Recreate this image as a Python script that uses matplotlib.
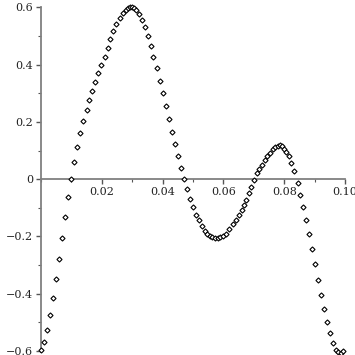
import matplotlib
matplotlib.use("Agg")
import matplotlib.pyplot as plt
from matplotlib.ticker import MultipleLocator

x_vals = [
    0.0000, 0.0011, 0.0020, 0.0029, 0.0040, 0.0050, 0.0060, 0.0070, 0.0080, 0.0090,
    0.0100, 0.0110, 0.0120, 0.0129, 0.0139, 0.0150, 0.0159, 0.0169, 0.0179, 0.0189,
    0.0199, 0.0209, 0.0219, 0.0228, 0.0238, 0.0248, 0.0261, 0.0270, 0.0279, 0.0286,
    0.0292, 0.0299, 0.0305, 0.0312, 0.0321, 0.0331, 0.0341, 0.0351, 0.0361, 0.0370,
    0.0380, 0.0390, 0.0400, 0.0410, 0.0420, 0.0430, 0.0440, 0.0450, 0.0459, 0.0469,
    0.0481, 0.0490, 0.0499, 0.0510, 0.0520, 0.0529, 0.0538, 0.0547, 0.0555, 0.0564,
    0.0573, 0.0582, 0.0590, 0.0599, 0.0608, 0.0618, 0.0630, 0.0640, 0.0650, 0.0660,
    0.0668, 0.0675, 0.0684, 0.0692, 0.0700, 0.0709, 0.0718, 0.0728, 0.0736, 0.0745,
    0.0753, 0.0762, 0.0770, 0.0778, 0.0785, 0.0792, 0.0799, 0.0807, 0.0816, 0.0824,
    0.0832, 0.0844, 0.0852, 0.0862, 0.0872, 0.0882, 0.0892, 0.0901, 0.0911, 0.0921,
    0.0930, 0.0940, 0.0950, 0.0960, 0.0970, 0.0978, 0.0986, 0.0995,
]
y_vals = [
    -0.595, -0.569, -0.527, -0.474, -0.415, -0.349, -0.279, -0.205, -0.133, -0.063,
    0.000, 0.059, 0.112, 0.160, 0.203, 0.242, 0.277, 0.308, 0.338, 0.370,
    0.398, 0.428, 0.459, 0.488, 0.516, 0.541, 0.562, 0.579, 0.590, 0.599,
    0.602, 0.600, 0.596, 0.590, 0.575, 0.555, 0.530, 0.500, 0.465, 0.425,
    0.387, 0.343, 0.300, 0.256, 0.210, 0.166, 0.122, 0.081, 0.040, 0.000,
    -0.035, -0.070, -0.098, -0.125, -0.144, -0.165, -0.180, -0.191, -0.198, -0.202,
    -0.205, -0.205, -0.202, -0.198, -0.191, -0.175, -0.157, -0.142, -0.125, -0.107,
    -0.091, -0.072, -0.049, -0.026, -0.002, 0.021, 0.035, 0.050, 0.067, 0.081,
    0.093, 0.105, 0.112, 0.116, 0.119, 0.114, 0.105, 0.095, 0.081, 0.056,
    0.027, -0.012, -0.055, -0.096, -0.142, -0.192, -0.243, -0.296, -0.351, -0.404,
    -0.453, -0.498, -0.537, -0.572, -0.595, -0.605, -0.607, -0.599,
]

x_ticks = [0.02, 0.04, 0.06, 0.08, 0.10]
x_ticklabels = ["0.02", "0.04", "0.06", "0.08", "0.10"]
y_ticks = [-0.6, -0.4, -0.2, 0.0, 0.2, 0.4, 0.6]
y_ticklabels = ["\u22120.6", "\u22120.4", "\u22120.2", "0", "0.2", "0.4", "0.6"]

plt.rcParams['font.family'] = ['DejaVu Serif']

fig = plt.figure(figsize=(3.55, 3.55), dpi=100)
ax = fig.add_axes([41/355, (355-352)/355, (345-41)/355, (352-7.3)/355])

ax.plot(x_vals, y_vals, linestyle='none', marker='D', markersize=2.6,
        markerfacecolor='white', markeredgecolor='black', markeredgewidth=0.8,
        clip_on=False, zorder=3)

ax.set_xlim(0, 0.1)
ax.set_ylim(-0.6035, 0.6)

axis_col = '#808080'
for s in ['top', 'right']:
    ax.spines[s].set_visible(False)
ax.spines['left'].set_position(('data', 0))
ax.spines['bottom'].set_position(('data', 0))
ax.spines['left'].set_color(axis_col)
ax.spines['bottom'].set_color(axis_col)
ax.spines['left'].set_linewidth(1.3)
ax.spines['bottom'].set_linewidth(1.3)

ax.set_xticks(x_ticks)
ax.set_xticklabels(x_ticklabels)
ax.set_yticks(y_ticks)
ax.set_yticklabels(y_ticklabels)
ax.xaxis.set_minor_locator(MultipleLocator(0.01))
ax.yaxis.set_minor_locator(MultipleLocator(0.1))

ax.tick_params(which='major', direction='out', length=3.5, width=1.0, color='#555555',
               labelsize=8, labelcolor='#222222', pad=2)
ax.tick_params(which='minor', direction='out', length=2, width=0.8, color='#555555')

ax.patch.set_alpha(0)
fig.savefig('out.png', dpi=100)
